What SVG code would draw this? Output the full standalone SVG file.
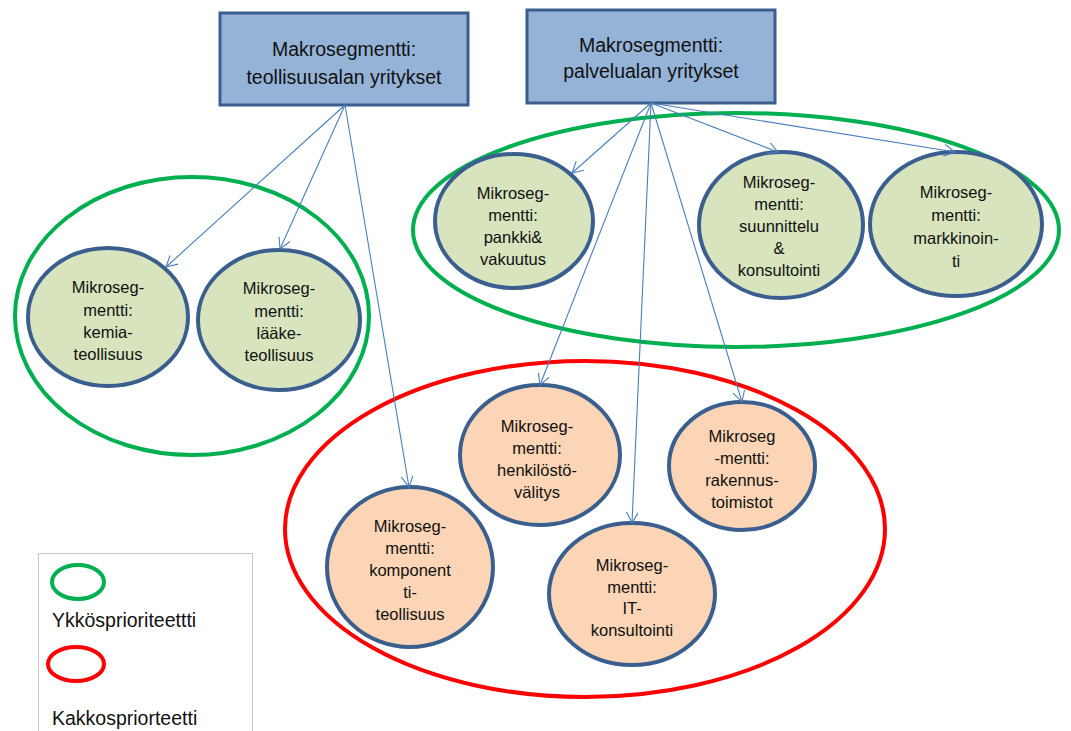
<svg xmlns="http://www.w3.org/2000/svg" width="1071" height="731" viewBox="0 0 1071 731">
  <style>
    .macro { fill: #95b3d7; stroke: #3a5f8e; stroke-width: 3; }
    .micro-a { fill: #d7e4bd; stroke: #3a5f8e; stroke-width: 4; }
    .micro-b { fill: #fbd5b5; stroke: #3a5f8e; stroke-width: 4; }
    .prio1 { fill: none; stroke: #00b050; stroke-width: 4; }
    .prio2 { fill: none; stroke: #ff0000; stroke-width: 4; }
    .lbl { font-family: "Liberation Sans", Arial, sans-serif; font-size: 16.5px; fill: #111111; text-anchor: middle; }
    .big { font-size: 19.5px; }
    .leg { font-family: "Liberation Sans", Arial, sans-serif; font-size: 19.5px; fill: #111111; }
    .conn line { stroke: #4a7ebb; stroke-width: 1.1; marker-end: url(#head); }
  </style>
  <defs>
    <marker id="head" markerUnits="userSpaceOnUse" markerWidth="14" markerHeight="14" refX="11" refY="6" orient="auto">
      <path d="M0,0 L11,6 L0,12" fill="none" stroke="#4a7ebb" stroke-width="1.1"/>
    </marker>
  </defs>
  <rect width="1071" height="731" fill="#ffffff"/>

  <!-- priority groupings -->
  <g id="group-prio1-industry"><ellipse class="prio1" cx="192" cy="316" rx="177" ry="139"/></g>
  <g id="group-prio1-services"><ellipse class="prio1" cx="736" cy="230" rx="323" ry="117"/></g>
  <g id="group-prio2"><ellipse class="prio2" cx="585" cy="529" rx="300" ry="168"/></g>

  <!-- macro segments -->
  <g id="macro-industry">
    <rect class="macro" x="220" y="13" width="248" height="92"/>
    <text class="lbl big" x="344" y="56">Makrosegmentti:</text>
    <text class="lbl big" x="344" y="84">teollisuusalan yritykset</text>
  </g>
  <g id="macro-services">
    <rect class="macro" x="527" y="10" width="248" height="93"/>
    <text class="lbl big" x="651" y="52">Makrosegmentti:</text>
    <text class="lbl big" x="651" y="78">palvelualan yritykset</text>
  </g>

  <!-- micro segments, first priority -->
  <g id="micro-kemia">
    <ellipse class="micro-a" cx="108" cy="317" rx="80" ry="69"/>
    <text class="lbl" x="108" y="293">Mikroseg-</text>
    <text class="lbl" x="108" y="316">mentti:</text>
    <text class="lbl" x="108" y="338">kemia-</text>
    <text class="lbl" x="108" y="360">teollisuus</text>
  </g>
  <g id="micro-laake">
    <ellipse class="micro-a" cx="279" cy="320" rx="81" ry="70"/>
    <text class="lbl" x="279" y="294">Mikroseg-</text>
    <text class="lbl" x="279" y="317">mentti:</text>
    <text class="lbl" x="279" y="339">lääke-</text>
    <text class="lbl" x="279" y="361">teollisuus</text>
  </g>
  <g id="micro-pankki">
    <ellipse class="micro-a" cx="514" cy="221" rx="79" ry="67"/>
    <text class="lbl" x="513" y="199">Mikroseg-</text>
    <text class="lbl" x="513" y="221">mentti:</text>
    <text class="lbl" x="513" y="243">pankki&amp;</text>
    <text class="lbl" x="513" y="265">vakuutus</text>
  </g>
  <g id="micro-suunnittelu">
    <ellipse class="micro-a" cx="781" cy="225" rx="82" ry="73"/>
    <text class="lbl" x="779" y="188">Mikroseg-</text>
    <text class="lbl" x="779" y="210">mentti:</text>
    <text class="lbl" x="779" y="232">suunnittelu</text>
    <text class="lbl" x="779" y="254">&amp;</text>
    <text class="lbl" x="779" y="276">konsultointi</text>
  </g>
  <g id="micro-markkinointi">
    <ellipse class="micro-a" cx="956" cy="224" rx="86" ry="72"/>
    <text class="lbl" x="956" y="198">Mikroseg-</text>
    <text class="lbl" x="956" y="221">mentti:</text>
    <text class="lbl" x="956" y="244">markkinoin-</text>
    <text class="lbl" x="956" y="267">ti</text>
  </g>

  <!-- micro segments, second priority -->
  <g id="micro-henkilosto">
    <ellipse class="micro-b" cx="540" cy="455" rx="80" ry="70"/>
    <text class="lbl" x="537" y="432">Mikroseg-</text>
    <text class="lbl" x="537" y="454">mentti:</text>
    <text class="lbl" x="537" y="476">henkilöstö-</text>
    <text class="lbl" x="537" y="498">välitys</text>
  </g>
  <g id="micro-rakennus">
    <ellipse class="micro-b" cx="742" cy="466" rx="73" ry="64"/>
    <text class="lbl" x="742" y="442">Mikroseg</text>
    <text class="lbl" x="742" y="464">-mentti:</text>
    <text class="lbl" x="742" y="486">rakennus-</text>
    <text class="lbl" x="742" y="508">toimistot</text>
  </g>
  <g id="micro-it">
    <ellipse class="micro-b" cx="632" cy="594" rx="83" ry="71"/>
    <text class="lbl" x="632" y="571">Mikroseg-</text>
    <text class="lbl" x="632" y="593">mentti:</text>
    <text class="lbl" x="632" y="614">IT-</text>
    <text class="lbl" x="632" y="636">konsultointi</text>
  </g>
  <g id="micro-komponentti">
    <ellipse class="micro-b" cx="410" cy="567" rx="83" ry="80"/>
    <text class="lbl" x="410" y="532">Mikroseg-</text>
    <text class="lbl" x="410" y="554">mentti:</text>
    <text class="lbl" x="410" y="576">komponent</text>
    <text class="lbl" x="410" y="598">ti-</text>
    <text class="lbl" x="410" y="620">teollisuus</text>
  </g>

  <!-- connectors -->
  <g id="connectors" class="conn">
    <line x1="345" y1="105" x2="166" y2="267"/>
    <line x1="345" y1="105" x2="280" y2="249"/>
    <line x1="345" y1="105" x2="409" y2="487"/>
    <line x1="651" y1="103" x2="572" y2="173"/>
    <line x1="651" y1="103" x2="778" y2="152"/>
    <line x1="651" y1="103" x2="955" y2="152"/>
    <line x1="651" y1="103" x2="540" y2="385"/>
    <line x1="651" y1="103" x2="632" y2="523"/>
    <line x1="651" y1="103" x2="742" y2="402"/>
  </g>

  <!-- legend -->
  <g id="legend">
    <rect x="38.5" y="553.5" width="214" height="190" fill="#ffffff" stroke="#c8c8c8" stroke-width="1"/>
    <ellipse class="prio1" cx="78" cy="582" rx="26" ry="17"/>
    <text class="leg" x="52" y="627">Ykkösprioriteettti</text>
    <ellipse class="prio2" cx="76" cy="664" rx="28" ry="17"/>
    <text class="leg" x="52" y="725">Kakkospriorteetti</text>
  </g>
</svg>
